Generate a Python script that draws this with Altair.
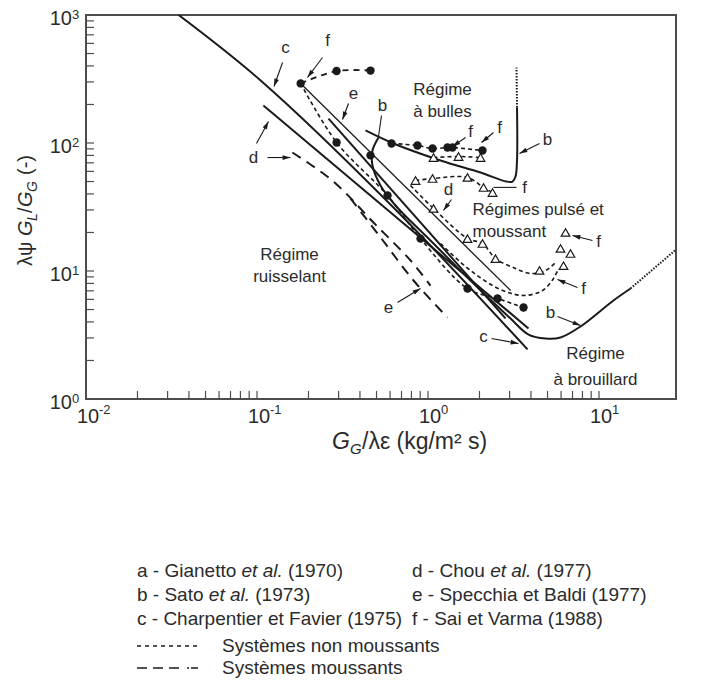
import math
import altair as alt
import pandas as pd

# ---------------- values ----------------
# x = G_G/λε (kg/m² s), y = λψ G_L/G_G (-)
c_x = [0.0348, 0.105, 0.628, 3.82]
c_y = [1000, 308, 31.3, 2.44]
d_x = [0.109, 3.87]
d_y = [196, 3.56]
d_dash_x = [0.161, 0.280, 0.480, 0.790, 1.034]
d_dash_y = [84.3, 50.0, 23.9, 12.1, 7.7]
e_x = [0.262, 2.84]
e_y = [155, 4.26]
e_dash_x = [0.352, 0.528, 0.823, 1.30]
e_dash_y = [36.9, 18.3, 8.43, 4.33]
f_line_x = [0.180, 3.04]
f_line_y = [292, 7.04]
b_bubble_x = [0.431, 0.628, 1.183, 2.028, 2.877, 3.12, 3.249, 3.315, 3.315]
b_bubble_y = [125.3, 99.1, 73.0, 58.8, 50.0, 50.0, 54.7, 73.0, 189.4]
b_bubble_dot_x = [3.315, 3.293]
b_bubble_dot_y = [189.4, 389]
b_trickle_x = [0.5135, 0.4735, 0.4735, 0.5275, 0.6455, 1.034, 1.772, 3.038, 3.87, 4.866, 5.955, 7.796, 12.15, 15.29]
b_trickle_y = [110.4, 87.4, 66.7, 46.6, 32.5, 17.31, 8.43, 4.255, 3.19, 2.97, 3.024, 3.685, 5.884, 7.30]
b_spray_dot_x = [15.29, 28.2]
b_spray_dot_y = [7.30, 14.7]
f_top_x = [0.180, 0.292, 0.461]
f_top_y = [292, 365, 368]
f_desc_x = [0.180, 0.292, 0.580, 0.904, 1.702, 2.549, 3.619]
f_desc_y = [292, 101, 38.9, 17.9, 7.30, 6.10, 5.19]
f_bub_x = [0.612, 0.868, 1.063, 1.300, 1.391, 2.083]
f_bub_y = [99.1, 95.6, 90.6, 92.2, 92.2, 87.4]
f_tri1_x = [1.077, 1.508, 2.028]
f_tri1_y = [77.0, 78.4, 77.0]
f_tri2_x = [0.845, 1.063, 1.702, 2.112, 2.384]
f_tri2_y = [50.9, 52.8, 53.8, 44.9, 41.0]
f_u1_x = [0.790, 1.077, 1.702, 2.083, 2.481, 3.249, 3.976, 4.866, 5.568]
f_u1_y = [46.6, 30.8, 17.95, 16.4, 12.52, 10.46, 9.56, 10.09, 11.65]
f_u2_x = [1.183, 1.772, 2.655, 3.619, 4.674, 5.420, 5.797]
f_u2_y = [16.4, 10.09, 7.17, 6.44, 7.04, 8.74, 10.46]

circle_x = [0.180, 0.292, 0.461, 0.292, 0.461, 0.612, 0.868, 1.063, 1.300, 1.391, 2.083, 0.580, 0.904, 1.702, 2.549, 3.619]
circle_y = [292, 365, 368, 101, 80, 99.1, 95.6, 90.6, 92.2, 92.2, 87.4, 38.9, 17.9, 7.30, 6.10, 5.19]
tri_x = [1.077, 1.508, 2.028, 0.845, 1.063, 1.702, 2.112, 2.384, 1.077, 1.702, 2.083, 2.481, 4.487, 6.20, 5.955, 6.81, 6.37]
tri_y = [77.0, 78.4, 77.0, 50.9, 52.8, 53.8, 44.9, 41.0, 30.8, 17.9, 16.4, 12.5, 10.1, 11.0, 15.0, 13.7, 20.0]

# arrows: tail (x1, y1) -> head (x2, y2)
arrow_x1 = [0.1410, 0.2415, 0.3428, 0.0993, 0.1152, 1.657, 2.415, 4.487, 1.372, 9.162, 7.484, 5.720, 2.351, 0.6634]
arrow_y1 = [425.6, 465.6, 203.5, 99.1, 77.0, 110.4, 120.8, 99.1, 36.2, 17.31, 7.43, 4.41, 2.970, 5.675]
arrow_x2 = [0.1257, 0.1973, 0.3162, 0.1168, 0.1570, 1.391, 2.055, 3.428, 1.232, 6.998, 5.720, 7.796, 3.382, 0.904]
arrow_y2 = [276.3, 324.9, 152.6, 147.2, 77.0, 93.9, 100.9, 82.8, 29.7, 18.94, 8.58, 3.752, 2.714, 7.30]
leader_x1 = [0.5346, 2.415]
leader_y1 = [163.9, 45.0]
leader_x2 = [0.5135, 3.293]
leader_y2 = [112.4, 45.0]

letter_text = ["c", "f", "e", "b", "d", "f", "f", "b", "f", "d", "f", "f", "b", "c", "e"]
letter_x = [0.1468, 0.2584, 0.3667, 0.5419, 0.0954, 1.772, 2.619, 4.999, 3.667, 1.318, 9.933, 8.118, 5.204, 2.112, 0.5875]
letter_y = [557, 632, 243.6, 196.3, 77.0, 120.8, 132.1, 104.6, 44.5, 42.56, 17.0, 7.17, 4.656, 3.024, 5.186]

region_text = ["Régime", "à bulles", "Régime", "à brouillard", "Régime", "ruisselant"]
region_x = [1.216, 1.216, 9.540, 9.540, 0.1549, 0.1549]
region_y = [257.2, 173.1, 2.267, 1.395, 13.22, 8.897]
region2_text = ["Régimes pulsé et", "moussant"]
region2_x = [1.820, 1.820]
region2_y = [30.0, 20.3]

x_ticks = [0.02, 0.03, 0.04, 0.05, 0.06, 0.07, 0.08, 0.09, 0.1, 0.2, 0.3, 0.4, 0.5, 0.6, 0.7, 0.8, 0.9,
           1, 2, 3, 4, 5, 6, 7, 8, 9, 10]
y_ticks = [2, 3, 4, 5, 6, 7, 8, 9, 10, 20, 30, 40, 50, 60, 70, 80, 90, 100, 200, 300, 400, 500, 600, 700, 800, 900]
x_label_at = [0.01, 0.1, 1, 10]
x_label_exp = ["-2", "-1", "0", "1"]
y_label_at = [1, 10, 100, 1000]
y_label_exp = ["0", "1", "2", "3"]

legend_col1 = [["a - Gianetto", "et al.", "(1970)"], ["b - Sato", "et al.", "(1973)"], ["c - Charpentier et Favier (1975)"]]
legend_col2 = [["d - Chou", "et al.", "(1977)"], ["e - Specchia et Baldi (1977)"], ["f - Sai et Varma (1988)"]]
legend_styles = ["Systèmes non moussants", "Systèmes moussants"]

# ---------------- chart ----------------
W, H = 590, 384
FONT = "Liberation Sans"
INK = "#1a1a1a"
TXT = "#2b2b2b"
XS = alt.Scale(type="log", domain=[0.01, 28.2], nice=False)
YS = alt.Scale(type="log", domain=[1, 1000], nice=False)
PXD = W / math.log10(28.2 / 0.01)
PYD = H / 3.0

series = [
    ("c", c_x, c_y, "thick"), ("d", d_x, d_y, "thick"), ("e", e_x, e_y, "thick"),
    ("fl", f_line_x, f_line_y, "thin"),
    ("bb", b_bubble_x, b_bubble_y, "thick"), ("bt", b_trickle_x, b_trickle_y, "thick"),
    ("bbd", b_bubble_dot_x, b_bubble_dot_y, "dot"), ("bsd", b_spray_dot_x, b_spray_dot_y, "dot"),
    ("dd", d_dash_x, d_dash_y, "long"), ("ed", e_dash_x, e_dash_y, "long"),
    ("ft", f_top_x, f_top_y, "med"), ("fd", f_desc_x, f_desc_y, "short"), ("fb", f_bub_x, f_bub_y, "short"),
    ("t1", f_tri1_x, f_tri1_y, "short"), ("t2", f_tri2_x, f_tri2_y, "short"),
    ("u1", f_u1_x, f_u1_y, "short"), ("u2", f_u2_x, f_u2_y, "short"),
]
rows = []
for name, xs, ys, style in series:
    for i, (xv, yv) in enumerate(zip(xs, ys)):
        rows.append({"s": name, "i": i, "x": xv, "y": yv, "style": style})
lines = pd.DataFrame(rows)

def X(f="x"):
    return alt.X(f"{f}:Q", scale=XS, axis=None)

def Y(f="y"):
    return alt.Y(f"{f}:Q", scale=YS, axis=None)

def line_layer(style, width, dash=None):
    kw = dict(color=INK, strokeWidth=width, clip=True, interpolate="catmull-rom")
    if dash:
        kw["strokeDash"] = dash
    return alt.Chart(lines[lines["style"] == style]).mark_line(**kw).encode(
        x=X(), y=Y(), detail="s:N", order="i:Q")

layers = [
    line_layer("thick", 2.0),
    line_layer("thin", 1.3),
    line_layer("long", 2.0, [10, 7]),
    line_layer("med", 1.8, [6, 5]),
    line_layer("short", 1.6, [4, 3]),
    line_layer("dot", 2.0, [1.5, 1.5]),
]

pts_c = pd.DataFrame({"x": circle_x, "y": circle_y})
pts_t = pd.DataFrame({"x": tri_x, "y": tri_y})
layers.append(alt.Chart(pts_c).mark_point(shape="circle", filled=True, size=70, color=INK, opacity=1).encode(x=X(), y=Y()))
layers.append(alt.Chart(pts_t).mark_point(shape="triangle-up", filled=True, fill="white", stroke=INK,
                                           strokeWidth=1.2, size=75, opacity=1).encode(x=X(), y=Y()))

# arrows
arr = pd.DataFrame({"x": arrow_x1, "y": arrow_y1, "x2": arrow_x2, "y2": arrow_y2})
arr["ang"] = [
    (math.degrees(math.atan2((math.log10(b) - math.log10(a)) * PXD,
                             (math.log10(d) - math.log10(c)) * PYD)) + 360) % 360
    for a, b, c, d in zip(arr["x"], arr["x2"], arr["y"], arr["y2"])
]
layers.append(alt.Chart(arr).mark_rule(color=INK, strokeWidth=1.1).encode(
    x=X(), y=Y(), x2="x2:Q", y2="y2:Q"))
layers.append(alt.Chart(arr).mark_point(shape="M0,0L-0.45,1.5L0.45,1.5Z", filled=True, size=110,
                                         color=INK, opacity=1).encode(
    x=X("x2"), y=Y("y2"), angle=alt.Angle("ang:Q", scale=None)))
lead = pd.DataFrame({"x": leader_x1, "y": leader_y1, "x2": leader_x2, "y2": leader_y2})
layers.append(alt.Chart(lead).mark_rule(color=INK, strokeWidth=1.1).encode(
    x=X(), y=Y(), x2="x2:Q", y2="y2:Q"))

lab = pd.DataFrame({"t": letter_text, "x": letter_x, "y": letter_y})
layers.append(alt.Chart(lab).mark_text(font=FONT, fontSize=17, color=TXT, align="center", baseline="middle").encode(
    x=X(), y=Y(), text="t:N"))
reg = pd.DataFrame({"t": region_text, "x": region_x, "y": region_y})
layers.append(alt.Chart(reg).mark_text(font=FONT, fontSize=17, color=TXT, align="center", baseline="middle").encode(
    x=X(), y=Y(), text="t:N"))
reg2 = pd.DataFrame({"t": region2_text, "x": region2_x, "y": region2_y})
layers.append(alt.Chart(reg2).mark_text(font=FONT, fontSize=17, color=TXT, align="left", baseline="middle").encode(
    x=X(), y=Y(), text="t:N"))

# ticks (inward)
tx = pd.DataFrame({"x": x_ticks})
ty = pd.DataFrame({"y": y_ticks})
layers.append(alt.Chart(tx).mark_rule(color="#4d4d4d", strokeWidth=1.2).encode(
    x=X(), y=alt.value(H), y2=alt.value(H - 8)))
layers.append(alt.Chart(ty).mark_rule(color="#4d4d4d", strokeWidth=1.2).encode(
    y=Y(), x=alt.value(0), x2=alt.value(8)))

# tick labels 10^n
xl = pd.DataFrame({"x": x_label_at, "e": x_label_exp})
yl = pd.DataFrame({"y": y_label_at, "e": y_label_exp})
layers.append(alt.Chart(xl).mark_text(font=FONT, fontSize=20, color=TXT, align="center", baseline="alphabetic", dx=2).encode(
    x=X(), y=alt.value(H + 24), text=alt.value("10")))
layers.append(alt.Chart(xl).mark_text(font=FONT, fontSize=13, color=TXT, align="left", baseline="alphabetic", dx=13).encode(
    x=X(), y=alt.value(H + 15), text="e:N"))
layers.append(alt.Chart(yl).mark_text(font=FONT, fontSize=20, color=TXT, align="right", baseline="middle", dx=-14, dy=4).encode(
    y=Y(), x=alt.value(0), text=alt.value("10")))
layers.append(alt.Chart(yl).mark_text(font=FONT, fontSize=13, color=TXT, align="left", baseline="middle", dx=-14, dy=0).encode(
    y=Y(), x=alt.value(0), text="e:N"))

one = pd.DataFrame({"k": [0]})

def txt(text, x, y, size=20, align="left", baseline="alphabetic", style="normal", angle=None):
    kw = dict(text=text, font=FONT, fontSize=size, color=TXT, align=align, baseline=baseline, fontStyle=style)
    if angle is not None:
        kw["angle"] = angle
    return alt.Chart(one).mark_text(**kw).encode(x=alt.value(x), y=alt.value(y))

# y-axis title: λψ G_L/G_G (-)
yb, ys_ = -54, -49
layers += [
    txt("λψ", yb, 251, angle=270),
    txt("G", yb, 221, style="italic", angle=270),
    txt("L", ys_, 206, size=14, style="italic", angle=270),
    txt("/", yb, 198, angle=270),
    txt("G", yb, 192, style="italic", angle=270),
    txt("G", ys_, 177, size=14, style="italic", angle=270),
    txt("(-)", yb, 160, angle=270),
]
# x-axis title: G_G/λε (kg/m² s)
xb = H + 50
layers += [
    txt("G", 246, xb, size=23, style="italic"),
    txt("G", 264, xb + 5, size=15, style="italic"),
    txt("/λε (kg/m² s)", 276, xb, size=23),
]

# legend
LF = 19
col1_x, col2_x = 51, 326
row_y = [H + 172, H + 196, H + 220]
for col_x, entries in ((col1_x, legend_col1), (col2_x, legend_col2)):
    for ry, parts in zip(row_y, entries):
        if len(parts) == 1:
            layers.append(txt(parts[0], col_x, ry, size=LF, baseline="middle"))
        else:
            w0 = 5.503 if parts[0].startswith("a") else (3.78 if parts[0].startswith("b") else 4.113)
            layers.append(txt(parts[0], col_x, ry, size=LF, baseline="middle"))
            layers.append(txt(parts[1], col_x + w0 * LF, ry, size=LF, baseline="middle", style="italic"))
            layers.append(txt(parts[2], col_x + (w0 + 2.168 + 0.278) * LF, ry, size=LF, baseline="middle"))

sy1, sy2 = H + 247, H + 269
layers.append(alt.Chart(one).mark_rule(color=INK, strokeWidth=1.5, strokeDash=[4, 4]).encode(
    x=alt.value(51), x2=alt.value(112), y=alt.value(sy1)))
layers.append(alt.Chart(one).mark_rule(color=INK, strokeWidth=1.5, strokeDash=[10, 6, 10, 6, 10, 8, 2, 2]).encode(
    x=alt.value(51), x2=alt.value(112), y=alt.value(sy2)))
layers.append(txt(legend_styles[0], 136, sy1, size=LF, baseline="middle"))
layers.append(txt(legend_styles[1], 136, sy2, size=LF, baseline="middle"))

chart = alt.layer(*layers).properties(
    width=W, height=H,
    autosize=alt.AutoSizeParams(type="none"),
    padding={"left": 78, "top": 7, "right": 17, "bottom": 281},
).configure_view(stroke="#4d4d4d", strokeWidth=2)

chart.save("out.html", embed_options={"renderer": "svg", "actions": False})
